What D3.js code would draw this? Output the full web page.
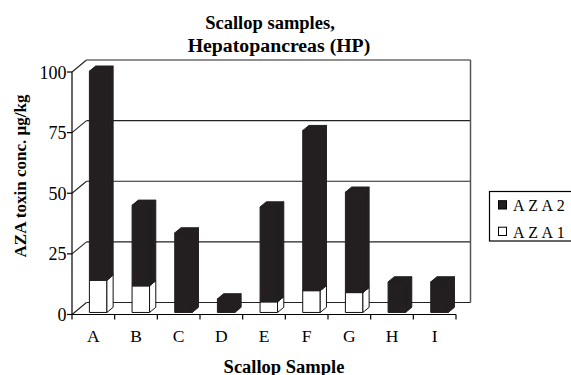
<!DOCTYPE html>
<html>
<head>
<meta charset="utf-8">
<script src="https://cdn.jsdelivr.net/npm/d3@7"></script>
<style>
  html, body { margin: 0; padding: 0; background: #fff; }
  svg { display: block; }
  text { font-family: "Liberation Serif", "Times New Roman", serif; fill: #000; }
</style>
</head>
<body>
<svg id="chart" width="571" height="375"></svg>
<script>
// ---- data ----
const categories = ["A", "B", "C", "D", "E", "F", "G", "H", "I"];
const aza1 = [13.3, 11.0, 0, 0, 4.4, 9.0, 8.2, 0, 0];
const aza2 = [86.2, 33.2, 32.8, 5.6, 39.1, 66.0, 41.4, 12.6, 12.6];
const yTicks = [0, 25, 50, 75, 100];
const seriesNames = ["AZA2", "AZA1"];
const titleLines = ["Scallop samples,", "Hepatopancreas (HP)"];
const yTitle = "AZA toxin conc. µg/kg";
const xTitle = "Scallop Sample";

// ---- layout ----
const svg = d3.select("#chart");
const depthX = 14.5, depthY = 12;        // full floor depth offset
const barZ0 = 0.17, barZ1 = 0.6;         // bar front/back depth fraction
const barL = 0.35, barR = 0.76;          // bar left/right fraction within band

const x = d3.scaleBand().domain(categories).range([72, 456]).paddingInner(0).paddingOuter(0);
const y = d3.scaleLinear().domain([0, 100]).range([314.5, 72]);

const P = (px, py, z) => [px + z * depthX, py - z * depthY];

const gridColor = "#222";

// back wall gridlines and side diagonals
const g = svg.append("g");
yTicks.forEach(t => {
  const [bx, by] = P(72, y(t), 1);
  g.append("line").attr("x1", bx).attr("x2", 470.5).attr("y1", by).attr("y2", by)
    .attr("stroke", gridColor).attr("stroke-width", 1.1);
  g.append("line").attr("x1", 72).attr("y1", y(t)).attr("x2", bx).attr("y2", by)
    .attr("stroke", gridColor).attr("stroke-width", 1.1);
});
// back wall right edge
g.append("line").attr("x1", 470.5).attr("x2", 470.5)
  .attr("y1", P(0, y(100), 1)[1]).attr("y2", P(0, y(0), 1)[1])
  .attr("stroke", "#555").attr("stroke-width", 1.5);

// bars
function box(gg, cat, v0, v1, fill) {
  const bx0 = x(cat) + barL * x.bandwidth();
  const bx1 = x(cat) + barR * x.bandwidth();
  const f = (px, v, z) => P(px, y(v), z);
  const poly = pts => pts.map(p => p.join(",")).join(" ");
  const front = [f(bx0, v0, barZ0), f(bx1, v0, barZ0), f(bx1, v1, barZ0), f(bx0, v1, barZ0)];
  const side = [f(bx1, v0, barZ0), f(bx1, v0, barZ1), f(bx1, v1, barZ1), f(bx1, v1, barZ0)];
  const top = [f(bx0, v1, barZ0), f(bx1, v1, barZ0), f(bx1, v1, barZ1), f(bx0, v1, barZ1)];
  [front, side, top].forEach(pts => {
    gg.append("polygon").attr("points", poly(pts))
      .attr("fill", fill).attr("stroke", fill === "#fff" ? "#111" : "#231f20")
      .attr("stroke-width", 1).attr("stroke-linejoin", "round");
  });
}
const bars = svg.append("g");
categories.forEach((c, i) => {
  if (aza1[i] > 0) box(bars, c, 0, aza1[i], "#fff");
  box(bars, c, aza1[i], aza1[i] + aza2[i], "#231f20");
});

// front axes
const ax = svg.append("g");
ax.append("line").attr("x1", 72).attr("x2", 72).attr("y1", y(100)).attr("y2", y(0) + 5)
  .attr("stroke", "#000").attr("stroke-width", 1.2);
ax.append("line").attr("x1", 67).attr("x2", 456).attr("y1", y(0)).attr("y2", y(0))
  .attr("stroke", "#000").attr("stroke-width", 1.2);
yTicks.forEach(t => {
  ax.append("line").attr("x1", 67).attr("x2", 72).attr("y1", y(t)).attr("y2", y(t))
    .attr("stroke", "#000").attr("stroke-width", 1.2);
  ax.append("text").attr("x", 66.5).attr("y", y(t) + 6.5).attr("text-anchor", "end")
    .attr("font-size", 18).text(t);
});
categories.forEach((c, i) => {
  const tx = x(c) + x.bandwidth();
  ax.append("line").attr("x1", tx).attr("x2", tx).attr("y1", y(0)).attr("y2", y(0) + 5)
    .attr("stroke", "#000").attr("stroke-width", 1.2);
  ax.append("text").attr("x", x(c) + x.bandwidth() / 2).attr("y", 341.5)
    .attr("text-anchor", "middle").attr("font-size", 17.5).text(c);
});

// titles
svg.append("text").attr("x", 270).attr("y", 28.5).attr("text-anchor", "middle")
  .attr("font-size", 18.5).attr("font-weight", "bold").text(titleLines[0]);
svg.append("text").attr("x", 279).attr("y", 52).attr("text-anchor", "middle")
  .attr("font-size", 19.8).attr("font-weight", "bold").text(titleLines[1]);
svg.append("text").attr("transform", "translate(26,176) rotate(-90)")
  .attr("text-anchor", "middle").attr("font-size", 17).attr("font-weight", "bold").text(yTitle);
svg.append("text").attr("x", 284).attr("y", 372.5).attr("text-anchor", "middle")
  .attr("font-size", 18.5).attr("font-weight", "bold").text(xTitle);

// legend
const lg = svg.append("g");
lg.append("rect").attr("x", 489.5).attr("y", 191.5).attr("width", 90).attr("height", 49.5)
  .attr("fill", "#fff").attr("stroke", "#000").attr("stroke-width", 1.2);
const legFill = ["#231f20", "#fff"];
seriesNames.forEach((s, i) => {
  const cy = 205 + i * 26.5;
  lg.append("rect").attr("x", 498.5).attr("y", cy - 4.3).attr("width", 8).attr("height", 8.3)
    .attr("fill", legFill[i]).attr("stroke", "#000").attr("stroke-width", 1);
  lg.append("text").attr("x", 513).attr("y", cy + 6.2).attr("font-size", 16)
    .attr("letter-spacing", 3.6).text(s);
});
</script>
</body>
</html>
